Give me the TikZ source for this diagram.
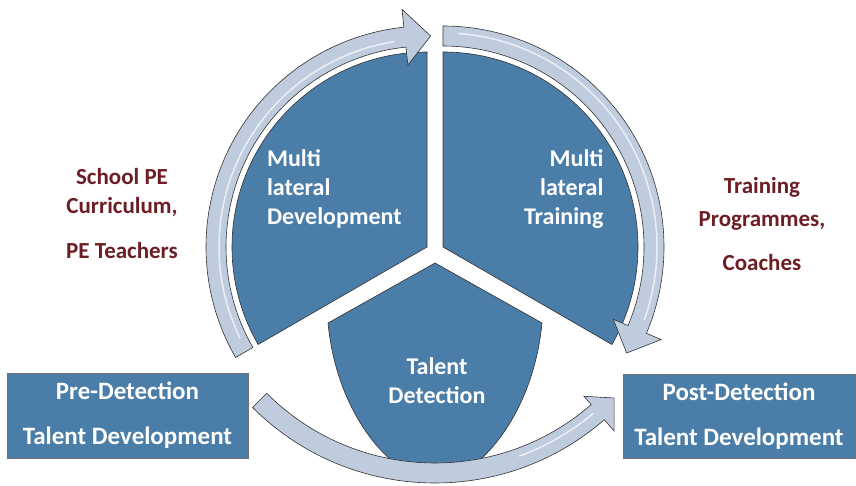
\documentclass[tikz,border=0pt]{standalone}
\usepackage{fontspec}
\setmainfont{Carlito}
\usetikzlibrary{calc}
\definecolor{sectorblue}{RGB}{74,125,168}
\definecolor{ringgrey}{RGB}{190,204,222}
\definecolor{labelred}{RGB}{108,30,36}
\tikzset{
    sector/.style={fill=sectorblue, draw=black!80, line width=0.6pt},
    ring/.style={fill=ringgrey, draw=black!80, line width=0.6pt},
    shine/.style={white, opacity=0.7, line width=1.5pt},
    stagebox/.style={fill=sectorblue, draw=black!55, line width=0.6pt},
    whitetext/.style={text=white, font=\fontsize{24}{29}\selectfont\bfseries},
    boxtext/.style={text=white, font=\fontsize{25}{29}\selectfont\bfseries},
    redtext/.style={text=labelred, font=\fontsize{23}{29}\selectfont\bfseries, align=center},
}
\begin{document}
\begin{tikzpicture}[x=1pt, y=1pt]
    \useasboundingbox (0,0) rectangle (856,486);
    \coordinate (L) at (427,239); % apex of the left sector
    \coordinate (R) at (443,239); % apex of the right sector
    \coordinate (T) at (435,223); % apex of the lower shield
    \coordinate (B) at (435,261); % centre of the lower arrow

    % Draw the two upper sectors
    \draw[sector] (L) -- ++(90:195) arc (90:210:195) -- cycle;
    \draw[sector] (R) -- ++(90:195) arc (90:-30:195) -- cycle;

    % Draw the talent detection shield
    \draw[sector] (T) -- (328,163) .. controls (334,100) and (362,48) .. (398,20)
        -- (473,20) .. controls (508,48) and (536,100) .. (542,163) -- cycle;

    % Curved arrows round the circle
    \draw[ring] ($(L)+(210:221)$) arc (210:96:221) -- ($(L)+(96:239)$) -- ($(L)+(89:211)$)
        -- ($(L)+(96:183)$) -- ($(L)+(96:201)$) arc (96:210:201) -- cycle;
    \draw[shine] ($(L)+(206:208)$) arc (206:99:208);
    \draw[ring] ($(R)+(90:221)$) arc (90:-23:221) -- ($(R)+(-23:237)$) -- ($(R)+(-30:212)$)
        -- ($(R)+(-23:185)$) -- ($(R)+(-23:201)$) arc (-23:90:201) -- cycle;
    \draw[shine] ($(R)+(86:214)$) arc (86:-20:214);

    % Lower arrow from one stage box to the other
    \draw[ring] ($(B)+(225:258)$) arc (225:311:258) -- ($(B)+(311:273)$) -- ($(B)+(316:249)$)
        -- ($(B)+(311:227)$) -- ($(B)+(311:238)$) arc (311:225:238) -- cycle;
    \draw[shine] ($(B)+(290:246)$) arc (290:310:246);

    % Stage boxes
    \node[stagebox, boxtext, align=center, minimum width=241, minimum height=85] (pre) at (127.5,70.5)
        {Pre-Detection\\[16pt]Talent Development};
    \node[stagebox, boxtext, align=center, minimum width=232, minimum height=84] (post) at (739,70)
        {Post-Detection\\[16pt]Talent Development};

    % Labels inside the circle
    \node[whitetext, align=left, anchor=west] (dev) at (263.5,297) {Multi\\lateral\\Development};
    \node[whitetext, align=right, anchor=east] (train) at (607,297) {Multi\\lateral\\Training};
    \node[whitetext, align=center] (detect) at (437,105) {Talent\\Detection};

    % Labels outside the circle
    \node[redtext] (school) at (122,272) {School PE\\Curriculum,\\[16pt]PE Teachers};
    \node[redtext] (coach) at (762,262) {Training\\[4pt]Programmes,\\[15pt]Coaches};
\end{tikzpicture}
\end{document}
